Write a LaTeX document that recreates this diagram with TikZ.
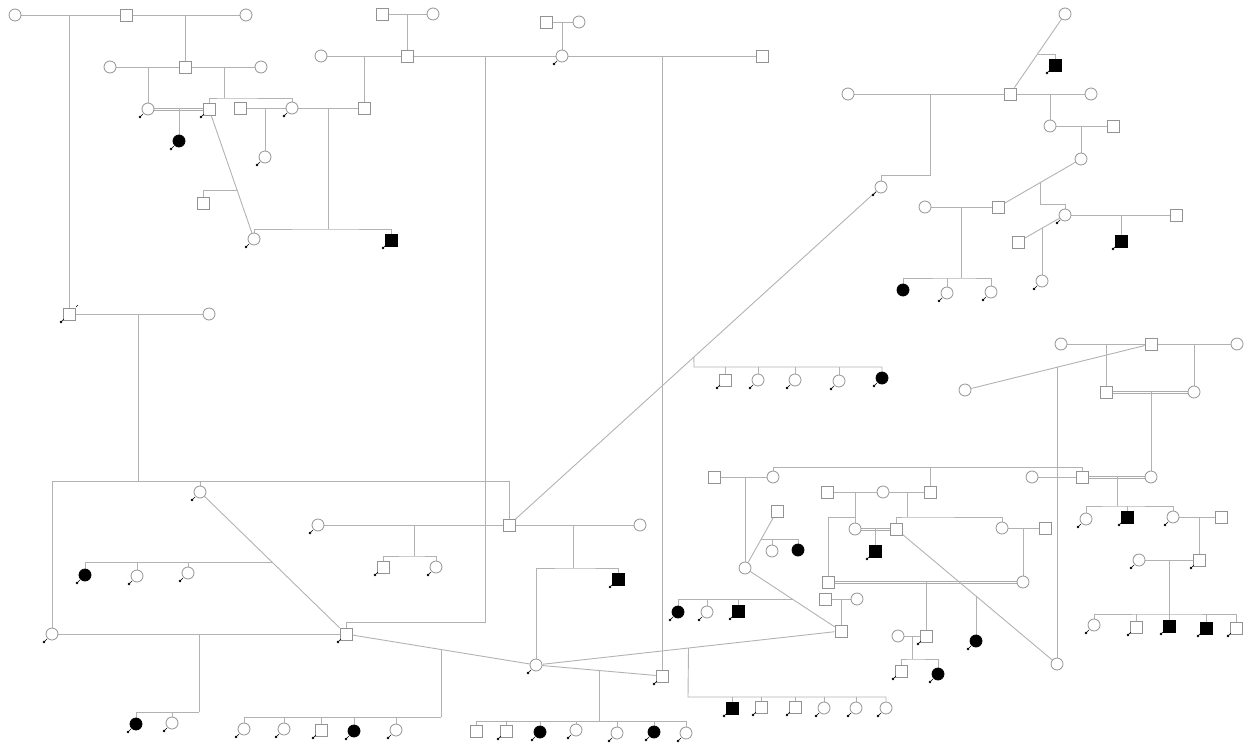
\documentclass[tikz,border=0pt]{standalone}
\usetikzlibrary{calc}
\pgfdeclarelayer{bg}
\pgfsetlayers{bg,main}
\tikzset{
 ln/.style={draw=gray!60, line width=0.9pt},
 dblA/.style={draw=gray!65, line width=0.8pt, transform canvas={yshift=1.1pt}},
 dblB/.style={draw=gray!65, line width=0.8pt, transform canvas={yshift=-1.1pt}},
 M/.style={rectangle, draw=gray!85, fill=white, line width=0.8pt, minimum size=12pt, inner sep=0pt},
 F/.style={circle, draw=gray!85, fill=white, line width=0.8pt, minimum size=12pt, inner sep=0pt},
 MA/.style={M, fill=black, draw=black},
 FA/.style={F, fill=black, draw=black},
}
\newcommand{\dblline}[2]{\draw[dblA] (#1) -- (#2); \draw[dblB] (#1) -- (#2);}
\begin{document}
\begin{tikzpicture}[x=1pt,y=-1pt]
\useasboundingbox (0,0) rectangle (1244,744);
% ---------- top-left ----------
\node[F] (c1) at (15,15) {};
\node[M] (s1) at (126,15) {};
\node[F] (c2) at (246,15) {};
\node[M] (sa) at (69,314) {};
\node[F] (ca) at (209,314) {};
\node[F] (c3) at (110,67) {};
\node[M] (s2) at (185,67) {};
\node[F] (c4) at (261,67) {};
\node[F] (c5) at (148,109) {};
\node[M] (s3) at (209,109) {};
\node[FA] (fa1) at (179,141) {};
\node[M] (s4) at (240,108) {};
\node[F] (c6) at (292,108) {};
\node[F] (c6k) at (265,157) {};
\node[M] (s5) at (364,108) {};
\node[M] (s3b) at (203,203) {};
\node[F] (c7) at (254,239) {};
\node[MA] (ma1) at (391,240) {};
% ---------- top-middle ----------
\node[M] (s6) at (382,14) {};
\node[F] (c8) at (433,14) {};
\node[M] (s7) at (407,56) {};
\node[F] (c9) at (321,56) {};
\node[M] (s8) at (762,56) {};
\node[M] (s9) at (546,22) {};
\node[F] (c10) at (579,22) {};
\node[F] (c11) at (562,56) {};
% ---------- top-right ----------
\node[F] (c12) at (1065,14) {};
\node[MA] (ma2) at (1055,65) {};
\node[M] (s10) at (1010,94) {};
\node[F] (c13) at (848,94) {};
\node[F] (c14) at (1091,94) {};
\node[F] (c16) at (1050,126) {};
\node[M] (s11) at (1113,126) {};
\node[F] (c17) at (1081,159) {};
\node[F] (c15) at (881,187) {};
\node[F] (c19) at (925,207) {};
\node[M] (s12) at (998,207) {};
\node[F] (c18) at (1065,215) {};
\node[M] (s13) at (1176,215) {};
\node[MA] (ma3) at (1121,241) {};
\node[M] (s14) at (1018,242) {};
\node[F] (c18k) at (1042,281) {};
\node[FA] (fa2) at (903,290) {};
\node[F] (c20a) at (947,293) {};
\node[F] (c20b) at (991,292) {};
% ---------- middle sibship ----------
\node[M] (k1) at (725,380) {};
\node[F] (k2) at (758,380) {};
\node[F] (k3) at (795,380) {};
\node[F] (k4) at (839,381) {};
\node[FA] (k5) at (882,378) {};
% ---------- right-middle ----------
\node[F] (c20) at (1061,344) {};
\node[M] (s15) at (1151,344) {};
\node[F] (c21) at (1237,344) {};
\node[F] (c24) at (965,390) {};
\node[M] (s16) at (1106,392) {};
\node[F] (c22) at (1194,392) {};
\node[F] (c23) at (1151,477) {};
\node[M] (s18) at (1082,477) {};
\node[F] (c26) at (1032,477) {};
\node[M] (s17) at (714,477) {};
\node[F] (c25) at (773,477) {};
\node[M] (t1) at (827,492) {};
\node[F] (t2) at (883,492) {};
\node[M] (t3) at (930,492) {};
\node[F] (t4) at (855,529) {};
\node[M] (s19) at (896,529) {};
\node[MA] (ma4) at (875,551) {};
\node[F] (c27) at (1002,528) {};
\node[M] (s27) at (1045,528) {};
\node[M] (s20) at (828,582) {};
\node[F] (c28r) at (1023,582) {};
\node[F] (u1) at (898,636) {};
\node[M] (u2) at (926,636) {};
\node[M] (u3) at (901,671) {};
\node[FA] (u4) at (938,674) {};
\node[FA] (fa5) at (976,641) {};
\node[F] (cbr) at (1057,664) {};
\node[F] (r1) at (1086,519) {};
\node[MA] (r2) at (1127,517) {};
\node[F] (r3) at (1173,517) {};
\node[M] (r4) at (1221,517) {};
\node[F] (r5) at (1139,560) {};
\node[M] (r6) at (1199,560) {};
\node[F] (r7) at (1094,625) {};
\node[M] (r8) at (1136,627) {};
\node[MA] (r9) at (1169,626) {};
\node[MA] (r10) at (1206,628) {};
\node[M] (r11) at (1236,628) {};
% ---------- middle-lower ----------
\node[F] (c28) at (745,568) {};
\node[M] (w1) at (777,511) {};
\node[F] (w2) at (772,551) {};
\node[FA] (w3) at (798,550) {};
\node[FA] (w4) at (678,612) {};
\node[F] (w5) at (707,612) {};
\node[MA] (w6) at (738,611) {};
\node[M] (w7) at (825,599) {};
\node[F] (w8) at (857,599) {};
\node[M] (s21) at (841,631) {};
\node[M] (sq) at (662,676) {};
\node[MA] (b1) at (732,708) {};
\node[M] (b2) at (761,707) {};
\node[M] (b3) at (795,707) {};
\node[F] (b4) at (824,708) {};
\node[F] (b5) at (856,708) {};
\node[F] (b6) at (886,708) {};
% ---------- centre ----------
\node[M] (sm) at (509,525) {};
\node[F] (c30) at (318,525) {};
\node[F] (c31) at (640,525) {};
\node[M] (m1) at (383,567) {};
\node[F] (m2) at (436,567) {};
\node[MA] (m3) at (618,579) {};
\node[F] (c29) at (536,665) {};
\node[M] (sml) at (346,634) {};
\node[M] (d1) at (476,731) {};
\node[M] (d2) at (506,731) {};
\node[FA] (d3) at (540,732) {};
\node[F] (d4) at (576,730) {};
\node[F] (d5) at (617,733) {};
\node[FA] (d6) at (654,732) {};
\node[F] (d7) at (686,733) {};
\node[F] (e1) at (244,729) {};
\node[F] (e2) at (284,729) {};
\node[M] (e3) at (321,730) {};
\node[FA] (e4) at (354,731) {};
\node[F] (e5) at (396,730) {};
% ---------- left-bottom ----------
\node[F] (c32) at (52,634) {};
\node[F] (c33) at (200,492) {};
\node[FA] (g1) at (85,575) {};
\node[F] (g2) at (137,576) {};
\node[F] (g3) at (188,573) {};
\node[FA] (h1) at (136,724) {};
\node[F] (h2) at (172,723) {};

% ---------- markers ----------
\foreach \n in {c5,s3,fa1,c6,c6k,c7,ma1,c11,sa,c15,ma2,c18,ma3,c20a,c20b,c18k,
  k1,k2,k3,k4,k5,c33,c30,m1,m2,m3,g1,g2,g3,c32,sml,h1,h2,e1,e2,e3,e4,e5,c29,
  d2,d3,d4,d5,d6,d7,sq,w4,w5,w6,ma4,b1,b2,b3,b4,b5,b6,u2,u3,u4,fa5,
  r1,r2,r3,r5,r6,r7,r8,r9,r10,r11}{
  \fill[black] ($(\n)+(-8,8)$) circle (1.4pt);
  \draw[black,line width=0.5pt] ($(\n)+(-8,8)$) -- ($(\n)+(-5,5)$);
}
\draw[black,line width=0.6pt] ($(sa)+(7,-7)$) -- ($(sa)+(9,-9)$);

\begin{pgfonlayer}{bg}
% top-left
\draw[ln] (c1) -- (c2);
\draw[ln] (sa |- c1) -- (sa);
\draw[ln] (s2 |- c1) -- (s2);
\draw[ln] (c3) -- (c4);
\draw[ln] (c5 |- c3) -- (c5);
\coordinate (j1) at (224,98);
\draw[ln] (j1 |- c3) -- (j1);
\draw[ln] (s3) |- (j1) -| (c6);
\dblline{c5}{s3}
\draw[ln] (fa1 |- c5) -- (fa1);
\draw[ln] (s4) -- (s5);
\draw[ln] (c6k |- s4) -- (c6k);
\draw[ln] (s5 |- c9) -- (s5);
\coordinate (j2) at (328,229);
\draw[ln] (j2 |- s4) -- (j2);
\draw[ln] (c7) |- (j2) -| (ma1);
\draw[ln] (s3) -- (c7);
\coordinate (j2b) at ($(s3)!0.63!(c7)$);
\draw[ln] (j2b) -| (s3b);
% top-middle
\draw[ln] (s6) -- (c8);
\draw[ln] (s7 |- s6) -- (s7);
\draw[ln] (c9) -- (s8);
\coordinate (j3) at (485,622);
\draw[ln] (j3 |- c9) -- (j3) -| (sml);
\draw[ln] (s9) -- (c10);
\draw[ln] (c11 |- s9) -- (c11);
\draw[ln] (sq |- c9) -- (sq);
% top-right
\draw[ln] (c12) -- (s10);
\draw[ln] ($(c12)!0.5!(s10)$) -| (ma2);
\draw[ln] (c13) -- (c14);
\coordinate (j4) at (930,175);
\draw[ln] (j4 |- c13) -- (j4) -| (c15);
\draw[ln] (c16 |- c13) -- (c16);
\draw[ln] (c16) -- (s11);
\draw[ln] (c17 |- c16) -- (c17);
\draw[ln] (c17) -- (s12);
\coordinate (j5) at ($(c17)!0.49!(s12)$);
\coordinate (j6) at (1065,204);
\draw[ln] (j5) |- (j6) -- (c18);
\draw[ln] (c19) -- (s12);
\coordinate (j7) at (961,278);
\draw[ln] (j7 |- s12) -- (j7);
\draw[ln] (fa2) |- (j7) -| (c20b);
\draw[ln] (c20a |- j7) -- (c20a);
\draw[ln] (c18) -- (s13);
\draw[ln] (ma3 |- s13) -- (ma3);
\draw[ln] (s14) -- (c18);
\coordinate (j8) at ($(s14)!0.51!(c18)$);
\draw[ln] (c18k |- j8) -- (c18k);
% main diagonal
\draw[ln] (c15) -- (sm);
\coordinate (j9) at ($(c15)!0.503!(sm)$);
\coordinate (j10) at (694,367);
\draw[ln] (j9) -- (j10) -| (k5);
\foreach \k in {k1,k2,k3,k4} \draw[ln] (\k |- j10) -- (\k);
% right-middle
\draw[ln] (c20) -- (c21);
\draw[ln] (s16 |- c20) -- (s16);
\draw[ln] (c22 |- c20) -- (c22);
\dblline{s16}{c22}
\draw[ln] (c23 |- s16) -- (c23);
\draw[ln] (c24) -- (s15);
\coordinate (j11) at ($(c24)!0.5!(s15)$);
\draw[ln] (cbr |- j11) -- (cbr);
\coordinate (j12) at (1082,467);
\draw[ln] (c25) |- (j12) -- (s18);
\draw[ln] (c26) -- (s18);
\dblline{s18}{c23}
\coordinate (j13) at (1117,506);
\draw[ln] (j13 |- s18) -- (j13);
\draw[ln] (r1) |- (j13) -| (r3);
\draw[ln] (r2 |- j13) -- (r2);
\draw[ln] (r3) -- (r4);
\draw[ln] (r6 |- r4) -- (r6);
\draw[ln] (r5) -- (r6);
\coordinate (j16) at (1169,614);
\draw[ln] (j16 |- r5) -- (j16);
\draw[ln] (r7) |- (j16) -| (r11);
\foreach \k in {r8,r9,r10} \draw[ln] (\k |- j16) -- (\k);
\draw[ln] (s17) -- (c25);
\draw[ln] (c28 |- s17) -- (c28);
\draw[ln] (t3 |- j12) -- (t3);
\draw[ln] (t1) -- (t3);
\coordinate (j14) at (855,517);
\draw[ln] (t4 |- t1) -- (t4);
\draw[ln] (j14) -| (s20);
\coordinate (j15) at (907,517);
\draw[ln] (j15 |- t1) -- (j15);
\draw[ln] (s19) |- (j15) -| (c27);
\dblline{t4}{s19}
\draw[ln] (ma4 |- t4) -- (ma4);
\draw[ln] (c27) -- (s27);
\draw[ln] (c28r |- c27) -- (c28r);
\dblline{s20}{c28r}
\draw[ln] (u2 |- s20) -- (u2);
\draw[ln] (u1) -- (u2);
\coordinate (j17) at (912,659);
\draw[ln] (j17 |- u1) -- (j17);
\draw[ln] (u3) |- (j17) -| (u4);
\draw[ln] (s19) -- (cbr);
\coordinate (j18) at ($(s19)!0.5!(cbr)$);
\draw[ln] (fa5 |- j18) -- (fa5);
% middle-lower
\draw[ln] (c28) -- (w1);
\coordinate (j19) at ($(c28)!0.5!(w1)$);
\draw[ln] (j19) -| (w3);
\draw[ln] (w2 |- j19) -- (w2);
\draw[ln] (c28) -- (s21);
\coordinate (j20) at ($(c28)!0.5!(s21)$);
\draw[ln] (j20) -| (w4);
\draw[ln] (w5 |- j20) -- (w5);
\draw[ln] (w6 |- j20) -- (w6);
\draw[ln] (w7) -- (w8);
\draw[ln] (s21 |- w7) -- (s21);
\draw[ln] (s21) -- (c29);
\draw[ln] (c29) -- (sq);
\coordinate (j21) at ($(s21)!0.5!(c29)$);
\coordinate (j22) at (688,697);
\draw[ln] (j21) -- (j22) -| (b6);
\foreach \k in {b1,b2,b3,b4,b5} \draw[ln] (\k |- j22) -- (\k);
% centre
\draw[ln] (c30) -- (c31);
\coordinate (j23) at (414,556);
\draw[ln] (j23 |- c30) -- (j23);
\draw[ln] (m1) |- (j23) -| (m2);
\coordinate (j24) at (573,568);
\draw[ln] (j24 |- c30) -- (j24);
\draw[ln] (c29) |- (j24) -| (m3);
\draw[ln] (sml) -- (c29);
\coordinate (j25) at ($(sml)!0.5!(c29)$);
\coordinate (j26) at (441,717);
\draw[ln] (j25) -- (j26);
\draw[ln] (e1) |- (j26);
\foreach \k in {e2,e3,e4,e5} \draw[ln] (\k |- j26) -- (\k);
\coordinate (j27) at ($(c29)!0.5!(sq)$);
\coordinate (j28) at (599,721);
\draw[ln] (j27) -- (j28);
\draw[ln] (d1) |- (j28) -| (d7);
\foreach \k in {d2,d3,d4,d5,d6} \draw[ln] (\k |- j28) -- (\k);
% left
\draw[ln] (sa) -- (ca);
\coordinate (j29) at (138,481);
\draw[ln] (j29 |- sa) -- (j29);
\coordinate (j30) at (509,481);
\draw[ln] (c32) |- (j30) -- (sm);
\draw[ln] (c33 |- j30) -- (c33);
\draw[ln] (c33) -- (sml);
\coordinate (j31) at ($(c33)!0.493!(sml)$);
\draw[ln] (j31) -| (g1);
\foreach \k in {g2,g3} \draw[ln] (\k |- j31) -- (\k);
\draw[ln] (c32) -- (sml);
\coordinate (j32) at (199,712);
\draw[ln] (j32 |- c32) -- (j32);
\draw[ln] (h1) |- (j32);
\draw[ln] (h2 |- j32) -- (h2);
\end{pgfonlayer}
\end{tikzpicture}
\end{document}
